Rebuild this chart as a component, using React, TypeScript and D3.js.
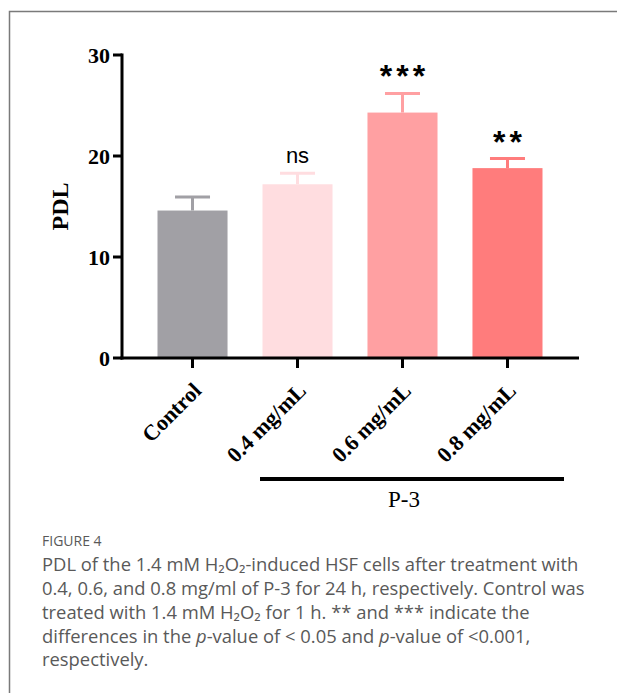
import * as d3 from "d3";

const categories = ["Control", "0.4 mg/mL", "0.6 mg/mL", "0.8 mg/mL"];
const means = [14.6, 17.2, 24.3, 18.8];
const errors = [1.35, 1.1, 1.9, 0.95];
const marks = ["", "ns", "***", "**"];
const colors = ["#a1a0a5", "#ffdde0", "#ffa0a2", "#ff7c7c"];
const yTicks = [0, 10, 20, 30];

const serif = "'Liberation Serif', 'Times New Roman', serif";
const sans = "'Liberation Sans', Arial, sans-serif";
const caption = "'Open Sans', 'Noto Sans', sans-serif";

export default function App() {
  const width = 617;
  const height = 693;

  const x = d3.scaleBand(categories, [140, 560]).paddingInner(0.333).paddingOuter(0.1667);
  const y = d3.scaleLinear([0, 30], [358, 55]);
  const bw = x.bandwidth();
  const axisX = 122;
  const capW = 35;

  return (
    <svg width={width} height={height} style={{ position: "absolute", left: 0, top: 0 }}>
      <rect x={0} y={0} width={width} height={height} fill="#fff" />
      <path d={`M9.5,${height}V11.5H${width}`} fill="none" stroke="#7a7a7a" strokeWidth="1.5" />

      {/* bars */}
      {categories.map((c, i) => {
        const cx = x(c)! + bw / 2;
        const top = y(means[i] + errors[i]);
        const star = marks[i] !== "ns";
        return (
          <g key={c}>
            <rect x={x(c)} y={y(means[i])} width={bw} height={y(0) - y(means[i])} fill={colors[i]} />
            <line x1={cx} x2={cx} y1={y(means[i])} y2={top} stroke={colors[i]} strokeWidth="3" />
            <line x1={cx - capW / 2} x2={cx + capW / 2} y1={top} y2={top} stroke={colors[i]} strokeWidth="3" />
            {marks[i] && (
              <text
                x={cx + (star ? 2 : 0)}
                y={star ? top - 6 : top - 10}
                textAnchor="middle"
                fontFamily={sans}
                fontSize={star ? 32 : 22}
                fontWeight={star ? "bold" : "normal"}
                letterSpacing={star ? 4 : 0}
              >
                {marks[i]}
              </text>
            )}
          </g>
        );
      })}

      {/* y axis */}
      <line x1={axisX} x2={axisX} y1={y(30) - 1.5} y2={y(0) + 1.5} stroke="#000" strokeWidth="3" />
      {yTicks.map((t) => (
        <g key={t}>
          <line x1={axisX - 9} x2={axisX} y1={y(t)} y2={y(t)} stroke="#000" strokeWidth="3" />
          <text x={axisX - 12} y={y(t)} dy="0.35em" textAnchor="end" fontFamily={serif} fontWeight="bold" fontSize="22">
            {t}
          </text>
        </g>
      ))}
      <text
        transform={`translate(68,${y(15)}) rotate(-90)`}
        textAnchor="middle"
        fontFamily={serif}
        fontWeight="bold"
        fontSize="24"
      >
        PDL
      </text>

      {/* x axis */}
      <line x1={axisX - 1.5} x2={579} y1={y(0)} y2={y(0)} stroke="#000" strokeWidth="3" />
      {categories.map((c) => {
        const cx = x(c)! + bw / 2;
        return (
          <g key={c}>
            <line x1={cx} x2={cx} y1={y(0)} y2={y(0) + 10} stroke="#000" strokeWidth="3" />
            <text
              transform={`translate(${cx + 10},${y(0) + 34}) rotate(-45)`}
              textAnchor="end"
              fontFamily={serif}
              fontWeight="bold"
              fontSize="22"
            >
              {c}
            </text>
          </g>
        );
      })}

      {/* group bracket */}
      <line x1={260} x2={564} y1={479} y2={479} stroke="#000" strokeWidth="4" />
      <text x={404} y={507} textAnchor="middle" fontFamily={serif} fontSize="23">
        P-3
      </text>

      {/* caption */}
      <g fontFamily={caption} fill="#595959">
        <text x={42} y={546} fontSize="14">FIGURE 4</text>
        <g fontSize="18.4">
          <text x={42} y={571}>PDL of the 1.4 mM H₂O₂-induced HSF cells after treatment with</text>
          <text x={42} y={595}>0.4, 0.6, and 0.8 mg/ml of P-3 for 24 h, respectively. Control was</text>
          <text x={42} y={619}>treated with 1.4 mM H₂O₂ for 1 h. ** and *** indicate the</text>
          <text x={42} y={643}>
            differences in the <tspan fontStyle="italic">p</tspan>-value of &lt; 0.05 and <tspan fontStyle="italic">p</tspan>-value of &lt;0.001,
          </text>
          <text x={42} y={666}>respectively.</text>
        </g>
      </g>
    </svg>
  );
}
